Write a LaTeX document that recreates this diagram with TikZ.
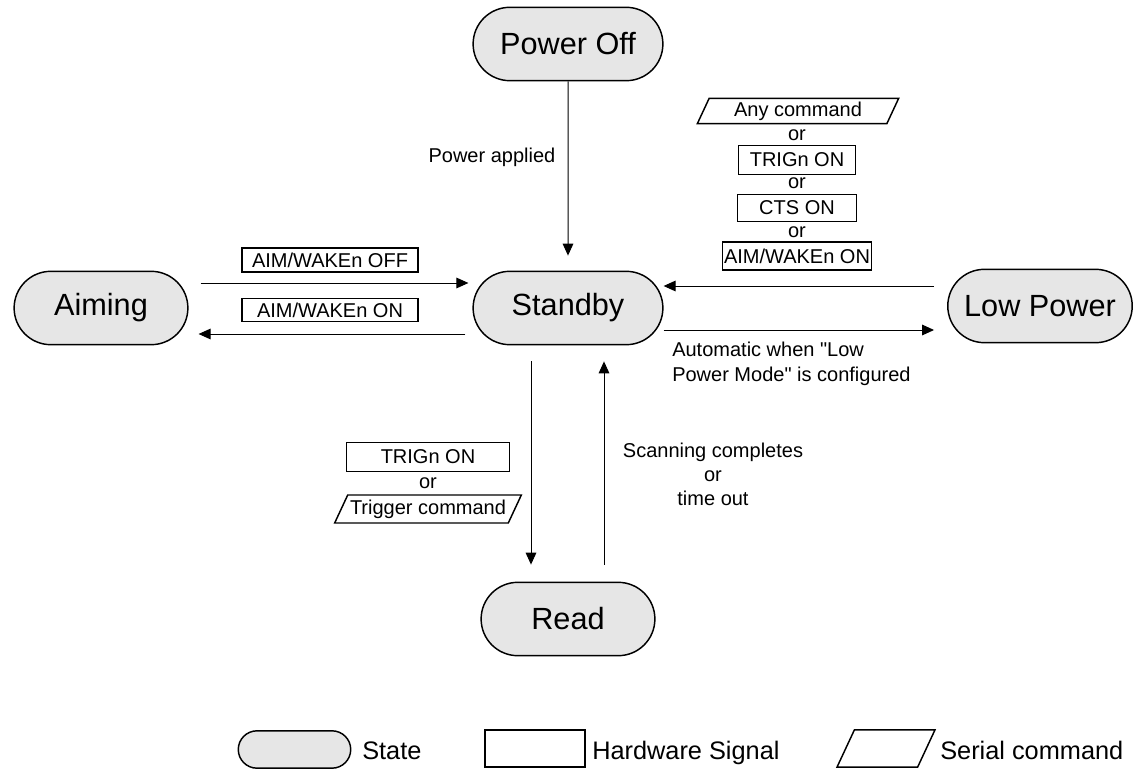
\documentclass[tikz,border=0pt]{standalone}
\usepackage{fontspec}
\setmainfont{Liberation Sans}[Ligatures=TeXOff]
\usetikzlibrary{shapes.misc,shapes.geometric,arrows.meta,calc}
\definecolor{statefill}{HTML}{E6E6E6}
\begin{document}
\begin{tikzpicture}[x=0.75pt,y=-0.75pt,
  state/.style={rounded rectangle,draw,line width=1.1pt,fill=statefill,minimum height=55pt,font=\fontsize{23}{27}\selectfont},
  hwbox/.style={rectangle,draw,line width=1.1pt,inner sep=1pt,font=\fontsize{15}{18}\selectfont},
  serial/.style={trapezium,trapezium left angle=65,trapezium right angle=115,trapezium stretches body,draw,line width=1.1pt,
    text height=11pt,text depth=3pt,inner xsep=1pt,inner ysep=2.5pt,font=\fontsize{15}{18}\selectfont},
  lbl/.style={font=\fontsize{15}{18}\selectfont},
  flow/.style={-{Triangle[length=9pt,width=8pt]},line width=0.75pt},
  legtext/.style={anchor=base west,inner sep=0pt,font=\fontsize{19}{22}\selectfont}]
\useasboundingbox (0,0) rectangle (1139,770);
\node [state,minimum width=149pt] (poweroff) at (568,44) {Power Off};
\node [state,minimum width=149pt] (standby) at (568,308) {Standby};
\node [state,minimum width=137pt] (aiming) at (101,308) {Aiming};
\node [state,minimum width=145pt] (lowpower) at (1040,306) {Low Power};
\node [state,minimum width=137pt] (read) at (568,619) {Read};
\draw [flow] (poweroff) -- ($(standby.north)+(0,-15)$);
\draw [flow] ($(aiming.east)+(12,-25)$) -- ($(standby.west)+(-4,-25)$);
\draw [flow] ($(standby.west)+(-7,26)$) -- ($(aiming.east)+(10,26)$);
\draw [flow] ($(lowpower.west)+(-13,-20)$) -- ($(standby.east)+(0,-22)$);
\draw [flow] ($(standby.east)+(0,22)$) -- ($(lowpower.west)+(-13,24)$);
\draw [flow] ($(standby.south)+(-37,16)$) -- ($(read.north)+(-37,-17)$);
\draw [flow] ($(read.north)+(36,-17)$) -- ($(standby.south)+(36,16)$);
\node [lbl,anchor=east] (applied) at (560,157) {Power applied};
\node [hwbox,minimum width=132pt,minimum height=18pt] (aimoff) at (330,260) {AIM/WAKEn OFF};
\node [hwbox,minimum width=132pt,minimum height=17pt] (aimon) at (330,310) {AIM/WAKEn ON};
\node [serial,minimum width=151pt] (anycmd) at (798,111) {Any command};
\node [lbl] (or1) at (797,135) {or};
\node [hwbox,minimum width=88pt,minimum height=22pt] (trigright) at (797,160) {TRIGn ON};
\node [lbl] (or2) at (797,183) {or};
\node [hwbox,minimum width=89pt,minimum height=20pt] (ctson) at (797,208) {CTS ON};
\node [lbl] (or3) at (797,232) {or};
\node [hwbox,minimum width=110pt,minimum height=21pt] (aimonright) at (797,256) {AIM/WAKEn ON};
\node [lbl,anchor=north west,align=left,inner sep=0pt,font=\fontsize{15}{18.75}\selectfont] (automatic) at (672,342) {Automatic when "Low\\Power Mode" is configured};
\node [hwbox,minimum width=122pt,minimum height=22pt] (trigleft) at (428,457) {TRIGn ON};
\node [lbl] (or4) at (428,483) {or};
\node [serial,minimum width=140pt,inner ysep=3.5pt] (trigcmd) at (428,509) {Trigger command};
\node [lbl,anchor=north,align=center,inner sep=0pt] (scanning) at (713,443) {Scanning completes\\or\\time out};
\node [state,minimum width=91pt,minimum height=28pt] (legstate) at (294.5,749.5) {};
\node [legtext] (legstatetext) at (362,759) {State};
\node [hwbox,minimum width=75pt,minimum height=28pt] (leghw) at (535,748.5) {};
\node [legtext] (leghwtext) at (592,759) {Hardware Signal};
\node [serial,minimum width=73.5pt,text height=0pt,text depth=0pt,inner ysep=14pt] (legserial) at (886,748.5) {};
\node [legtext] (legserialtext) at (940,759) {Serial command};
\end{tikzpicture}
\end{document}
